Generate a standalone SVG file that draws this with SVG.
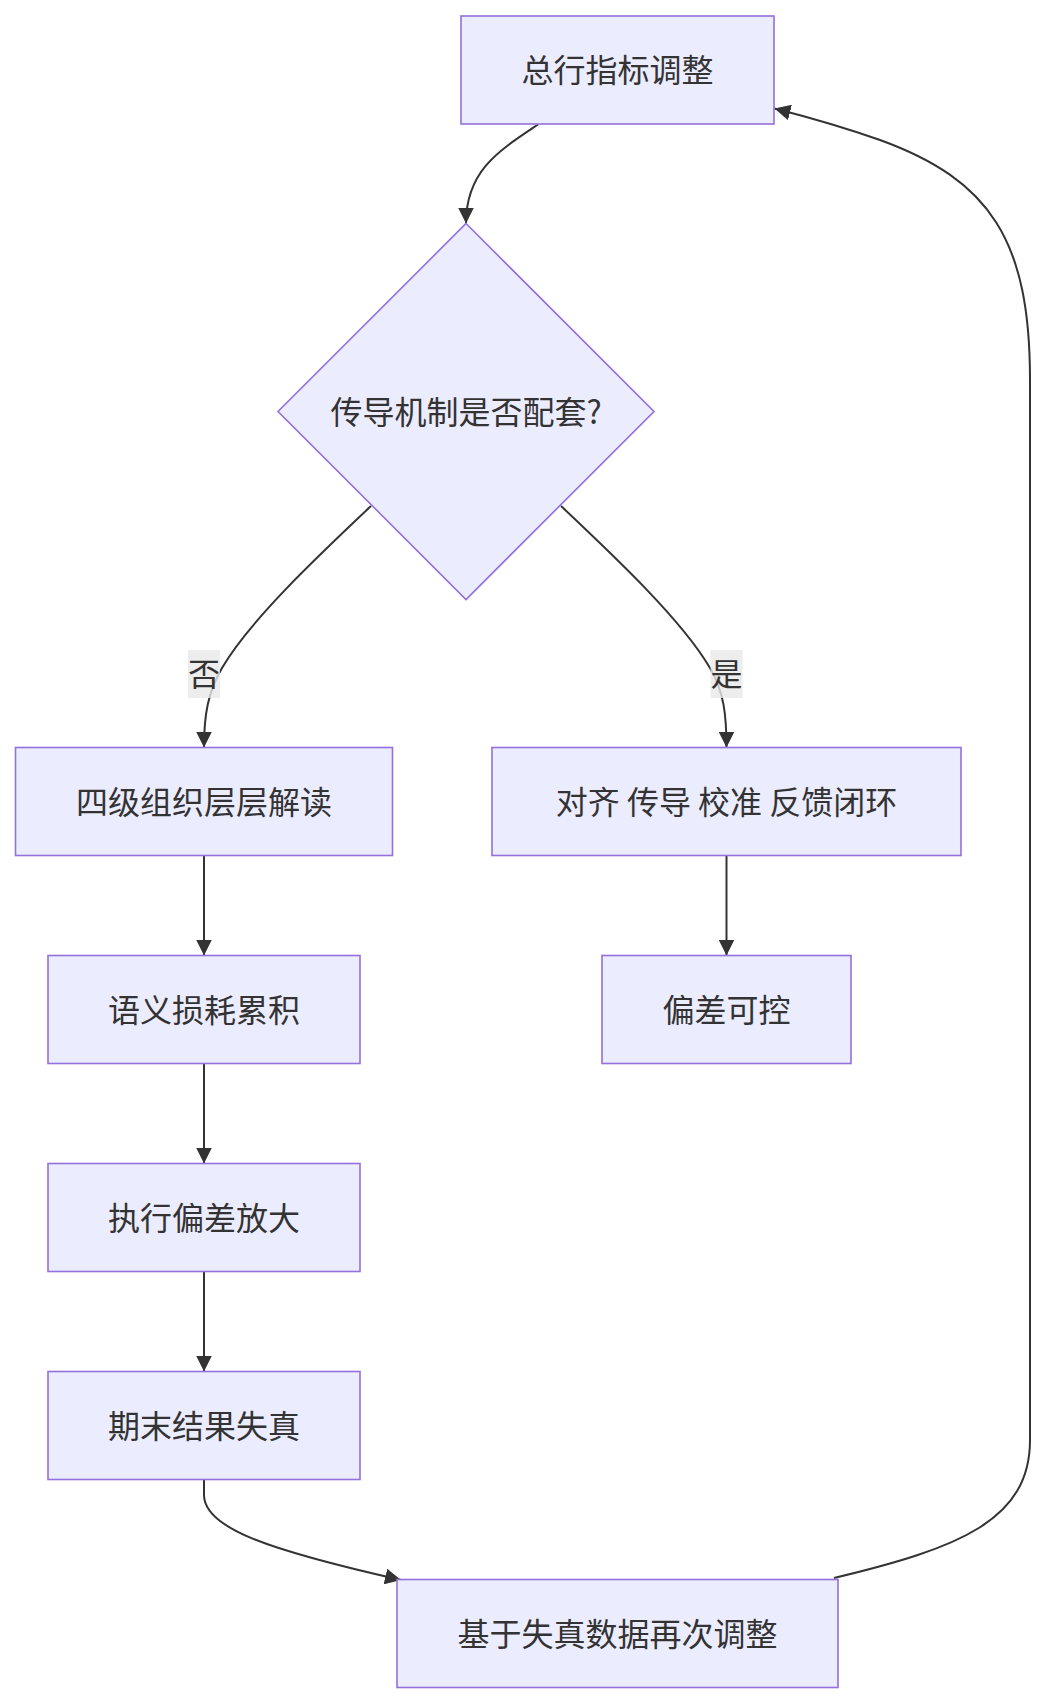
<svg xmlns="http://www.w3.org/2000/svg" width="1046" height="1703" viewBox="0 0 1046 1703">
<defs>
<marker id="arrow" viewBox="0 0 10 10" refX="10" refY="5" markerUnits="userSpaceOnUse" markerWidth="16" markerHeight="16" orient="auto">
<path d="M0,0 L10,5 L0,10 z" fill="#333333"/>
</marker>
<style>
.node rect, .node polygon { fill: #ECECFF; stroke: #9370DB; stroke-width: 1.6; }
.node text, .label text { font-family: "Noto Sans CJK SC", "Noto Sans", sans-serif; font-size: 32px; fill: #333333; text-anchor: middle; }
.edge { fill: none; stroke: #333333; stroke-width: 2; marker-end: url(#arrow); }
.label rect { fill: #e8e8e8; opacity: 0.8; }
</style>
</defs>
<rect width="1046" height="1703" fill="#ffffff"/>
<g id="connectors">
<path class="edge" d="M538,124.5 C500,150 466,170 466,223.5"/>
<path class="edge" d="M371,506 C318,556 250,620 222,668 C208,692 204,715 204,747.5"/>
<path class="edge" d="M561,506 C614,556 682,620 710,668 C724,692 726.5,715 726.5,747.5"/>
<path class="edge" d="M204,855.5 L204,955.5"/>
<path class="edge" d="M204,1063.5 L204,1163.5"/>
<path class="edge" d="M204,1271.5 L204,1371.5"/>
<path class="edge" d="M726.5,855.5 L726.5,955.5"/>
<path class="edge" d="M204,1479.5 L204,1495 C204,1528 268,1550 401,1580"/>
<path class="edge" d="M834,1578 C960,1548 1030,1520 1030,1440 L1030,380 C1030,240 990,180 880,140 C840,126 800,115 774.5,108.5"/>
</g>
<g id="edge-label-no" class="label">
<rect x="188" y="650" width="32" height="48"/>
<text x="204" y="686">否</text>
</g>
<g id="edge-label-yes" class="label">
<rect x="710.5" y="650" width="32" height="48"/>
<text x="726.5" y="686">是</text>
</g>
<g id="A" class="node">
<rect x="461" y="16" width="313" height="108"/>
<text x="617.5" y="82">总行指标调整</text>
</g>
<g id="B" class="node">
<polygon points="466,223.5 654,411.5 466,599.5 278,411.5"/>
<text x="466" y="423.5">传导机制是否配套?</text>
</g>
<g id="C" class="node">
<rect x="15.5" y="747.5" width="377" height="108"/>
<text x="204" y="813.5">四级组织层层解读</text>
</g>
<g id="D" class="node">
<rect x="492" y="747.5" width="469" height="108"/>
<text x="726.5" y="813.5">对齐 传导 校准 反馈闭环</text>
</g>
<g id="E" class="node">
<rect x="48" y="955.5" width="312" height="108"/>
<text x="204" y="1021.5">语义损耗累积</text>
</g>
<g id="F" class="node">
<rect x="602" y="955.5" width="249" height="108"/>
<text x="726.5" y="1021.5">偏差可控</text>
</g>
<g id="G" class="node">
<rect x="48" y="1163.5" width="312" height="108"/>
<text x="204" y="1229.5">执行偏差放大</text>
</g>
<g id="H" class="node">
<rect x="48" y="1371.5" width="312" height="108"/>
<text x="204" y="1437.5">期末结果失真</text>
</g>
<g id="I" class="node">
<rect x="397" y="1579.5" width="441" height="108"/>
<text x="617.5" y="1645.5">基于失真数据再次调整</text>
</g>
</svg>
